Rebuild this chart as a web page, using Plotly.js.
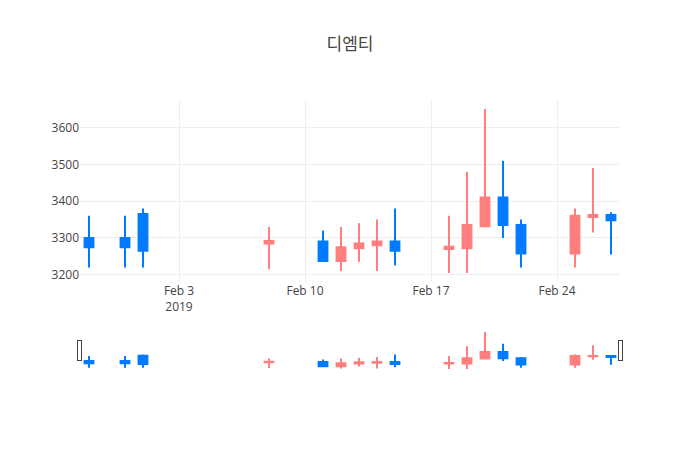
<!DOCTYPE html>
<html>
<head>
<meta charset="utf-8">
<script src="https://cdn.plot.ly/plotly-3.0.1.min.js"></script>
<style>
  body { margin: 0; }
  #chart { width: 700px; height: 450px; }
</style>
</head>
<body>
<div id="chart"></div>
<script>
// 디엠티 daily prices, Jan 29 - Feb 27 2019
var dates = ["2019-01-29", "2019-01-31", "2019-02-01", "2019-02-08",
             "2019-02-11", "2019-02-12", "2019-02-13", "2019-02-14", "2019-02-15",
             "2019-02-18", "2019-02-19", "2019-02-20", "2019-02-21", "2019-02-22",
             "2019-02-25", "2019-02-26", "2019-02-27"]
var opens  = [3300, 3300, 3365, 3285, 3290, 3237, 3272, 3280, 3290, 3270, 3272, 3332, 3410, 3335, 3258, 3357, 3362]
var highs  = [3360, 3360, 3380, 3330, 3320, 3330, 3340, 3350, 3380, 3360, 3480, 3650, 3510, 3350, 3380, 3490, 3370]
var lows   = [3220, 3220, 3220, 3215, 3235, 3210, 3235, 3210, 3225, 3205, 3205, 3330, 3300, 3220, 3220, 3315, 3255]
var closes = [3275, 3275, 3265, 3292, 3237, 3275, 3285, 3290, 3265, 3276, 3335, 3410, 3335, 3258, 3360, 3362, 3348]

var upColor = "#FF7F7F"
var downColor = "#007AFF"

Plotly.newPlot(
    document.getElementById("chart"),
    [{
        type: "candlestick",
        x: dates,
        open: opens,
        high: highs,
        low: lows,
        close: closes,
        increasing: { line: { color: upColor }, fillcolor: upColor },
        decreasing: { line: { color: downColor }, fillcolor: downColor },
    }],
    {
        width: 700,
        height: 450,
        title: {
            text: "디엠티",
            font: { family: "Noto Sans CJK KR, sans-serif", size: 17, color: "#444" },
        },
        xaxis: {
            type: "date",
            rangeslider: { visible: true },
        },
        yaxis: {},
    },
    { displayModeBar: false }
)
</script>
</body>
</html>
